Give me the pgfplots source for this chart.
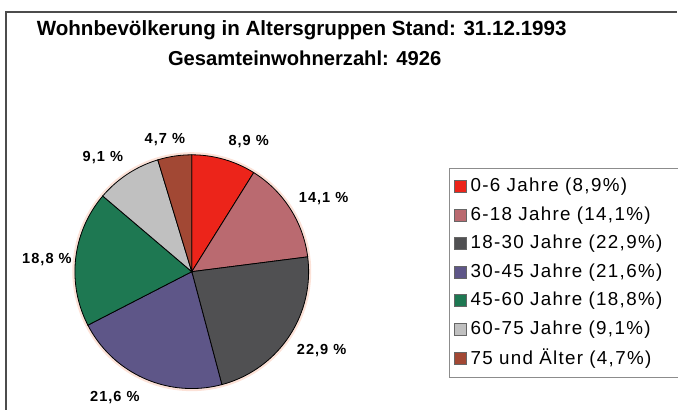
\documentclass[border=0pt]{standalone}
\usepackage{fontspec}
\setmainfont{Liberation Sans}
\newfontfamily\wide[LetterSpace=7]{Liberation Sans}
\usepackage{pgfplots}
\pgfplotsset{compat=1.18}

\definecolor{cA}{RGB}{236,36,26}
\definecolor{cB}{RGB}{186,106,112}
\definecolor{cC}{RGB}{80,80,82}
\definecolor{cD}{RGB}{94,86,136}
\definecolor{cE}{RGB}{30,120,82}
\definecolor{cF}{RGB}{192,192,192}
\definecolor{cG}{RGB}{162,72,52}
\definecolor{halo}{RGB}{252,226,216}

% pie centre and radius in pixel units of the 678x410 frame
\def\cx{192}
\def\cy{138}
\def\r{117}
\def\tot{100.1}

\begin{document}
\begin{tikzpicture}
\begin{axis}[
  width=339pt,height=205pt,scale only axis,
  xmin=0,xmax=678,ymin=0,ymax=410,
  axis lines=none,clip=false,
  samples=40,
  legend cell align=left,
  legend image code/.code={\draw[#1,draw=black!60] (0pt,-3pt) rectangle (6pt,3pt);},
  legend style={at={(axis cs:450,242)},anchor=north west,draw=black!45,overlay,
    font=\wide\fontsize{9.4pt}{11pt}\selectfont,row sep=1.95pt,
    inner xsep=2pt,inner ysep=3pt,text width=112pt},
]
% keep the full 678x410 frame as bounding box
\path (axis cs:0,0) rectangle (axis cs:678,410);
\draw[halo,line width=2.6pt] (axis cs:\cx,\cy) circle[radius=58.5pt];
% slices: domain = cumulative percentages 8,9 / 14,1 / 22,9 / 21,6 / 18,8 / 9,1 / 4,7
\addplot[fill=cA,draw=black,thin,domain=0:8.9]
  ({\cx+\r*cos(90-360*x/\tot)},{\cy+\r*sin(90-360*x/\tot)}) -- (axis cs:\cx,\cy) -- cycle;
\addlegendentry{0-6 Jahre (8,9\%)}
\addplot[fill=cB,draw=black,thin,domain=8.9:23.0]
  ({\cx+\r*cos(90-360*x/\tot)},{\cy+\r*sin(90-360*x/\tot)}) -- (axis cs:\cx,\cy) -- cycle;
\addlegendentry{6-18 Jahre (14,1\%)}
\addplot[fill=cC,draw=black,thin,domain=23.0:45.9]
  ({\cx+\r*cos(90-360*x/\tot)},{\cy+\r*sin(90-360*x/\tot)}) -- (axis cs:\cx,\cy) -- cycle;
\addlegendentry{18-30 Jahre (22,9\%)}
\addplot[fill=cD,draw=black,thin,domain=45.9:67.5]
  ({\cx+\r*cos(90-360*x/\tot)},{\cy+\r*sin(90-360*x/\tot)}) -- (axis cs:\cx,\cy) -- cycle;
\addlegendentry{30-45 Jahre (21,6\%)}
\addplot[fill=cE,draw=black,thin,domain=67.5:86.3]
  ({\cx+\r*cos(90-360*x/\tot)},{\cy+\r*sin(90-360*x/\tot)}) -- (axis cs:\cx,\cy) -- cycle;
\addlegendentry{45-60 Jahre (18,8\%)}
\addplot[fill=cF,draw=black,thin,domain=86.3:95.4]
  ({\cx+\r*cos(90-360*x/\tot)},{\cy+\r*sin(90-360*x/\tot)}) -- (axis cs:\cx,\cy) -- cycle;
\addlegendentry{60-75 Jahre (9,1\%)}
\addplot[fill=cG,draw=black,thin,domain=95.4:100.1]
  ({\cx+\r*cos(90-360*x/\tot)},{\cy+\r*sin(90-360*x/\tot)}) -- (axis cs:\cx,\cy) -- cycle;
\addlegendentry{75 und Älter (4,7\%)}

% frame
\draw[black!70,line width=0.8pt] (axis cs:6,0) -- (axis cs:6,398) -- (axis cs:678,398);

% title
\node[font=\bfseries\fontsize{10.3pt}{12pt}\selectfont,anchor=center] at (axis cs:302,380) {Wohnbevölkerung in Altersgruppen Stand: 31.12.1993};
\node[font=\bfseries\fontsize{10.1pt}{12pt}\selectfont,anchor=center] at (axis cs:305,352) {Gesamteinwohnerzahl: 4926};

% slice labels
\begin{scope}[every node/.style={font=\wide\bfseries\fontsize{7.3pt}{8pt}\selectfont,anchor=center}]
\node at (axis cs:249,268) {8,9 \%};
\node at (axis cs:324,211) {14,1 \%};
\node at (axis cs:322,59) {22,9 \%};
\node at (axis cs:115,12) {21,6 \%};
\node at (axis cs:47,150) {18,8 \%};
\node at (axis cs:103,252) {9,1 \%};
\node at (axis cs:165,270) {4,7 \%};
\end{scope}
\end{axis}
\end{tikzpicture}
\end{document}
